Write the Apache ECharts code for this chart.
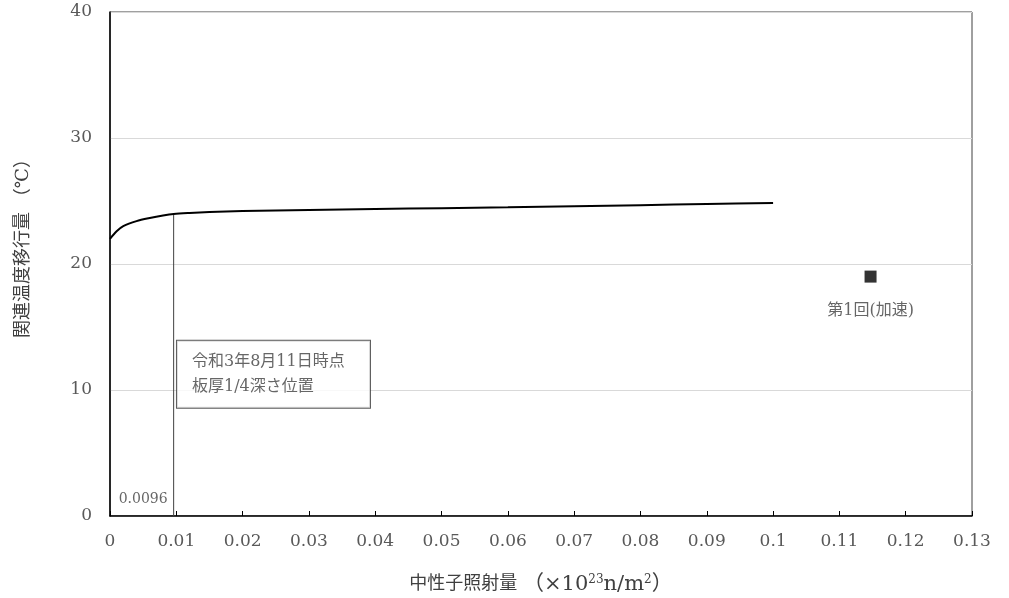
<!DOCTYPE html>
<html>
<head>
<meta charset="utf-8">
<script src="https://cdn.jsdelivr.net/npm/echarts@6/dist/echarts.min.js"></script>
<style>html,body{margin:0;padding:0;background:#fff}#c{width:1009px;height:598px}</style>
</head>
<body>
<div id="c"></div>
<script>
// Curve: fluence (x10^23 n/m^2) vs transition temperature shift (°C)
const curveX = [0, 0.001, 0.002, 0.004, 0.006, 0.008, 0.0096, 0.012, 0.015, 0.02, 0.03, 0.04, 0.05, 0.06, 0.07, 0.08, 0.09, 0.1];
const curveY = [22.0, 22.6, 23.0, 23.4, 23.65, 23.85, 23.97, 24.05, 24.12, 24.2, 24.28, 24.36, 24.43, 24.5, 24.58, 24.67, 24.76, 24.85];
// Surveillance test result
const testX = [0.1147];
const testY = [19.0];
const testName = '第1回(加速)';
// Current point
const nowX = 0.0096;
const nowY = 23.97;
const nowLabel = '0.0096';
const noteLines = ['令和3年8月11日時点', '板厚1/4深さ位置'];
const noteAnchor = [0.0101, 13.9];
const xTicks = { min: 0, max: 0.13, interval: 0.01 };
const yTicks = { min: 0, max: 40, interval: 10 };

const FONT = '"DejaVu Serif", "Noto Sans CJK JP", serif';
const chart = echarts.init(document.getElementById('c'));
chart.setOption({
  animation: false,
  grid: { left: 110, right: 37, top: 12, bottom: 82, show: true, borderColor: '#404040', borderWidth: 1,
    containLabel: false, outerBoundsMode: 'none' },
  xAxis: {
    type: 'value', min: xTicks.min, max: xTicks.max, interval: xTicks.interval,
    name: '中性子照射量 {l|（×10}{sup|23}{l|n/m}{sup|2}{l|）}', nameLocation: 'middle', nameGap: 58,
    nameTextStyle: { fontFamily: FONT, fontSize: 18, color: '#404040',
      rich: {
        l: { fontFamily: FONT, fontSize: 21, color: '#404040' },
        sup: { fontFamily: FONT, fontSize: 12, color: '#404040', verticalAlign: 'top', padding: [0, 0, 9, 0] }
      } },
    axisLine: { show: true, lineStyle: { color: '#000', width: 1.5 } },
    axisTick: { show: true, inside: true, length: 5, lineStyle: { color: '#000' } },
    axisLabel: { fontFamily: FONT, fontSize: 17, color: '#595959', margin: 17 },
    splitLine: { show: false }
  },
  yAxis: {
    type: 'value', min: yTicks.min, max: yTicks.max, interval: yTicks.interval,
    name: '関連温度移行量 （℃）', nameLocation: 'middle', nameGap: 78,
    nameTextStyle: { fontFamily: FONT, fontSize: 18, color: '#404040', padding: [0, 0, 0, 40] },
    axisLine: { show: true, lineStyle: { color: '#000', width: 1.5 } },
    axisTick: { show: false },
    axisLabel: { fontFamily: FONT, fontSize: 17, color: '#595959', margin: 18 },
    splitLine: { show: true, lineStyle: { color: '#d9d9d9', width: 1 } }
  },
  series: [
    {
      type: 'line', data: curveX.map((x, i) => [x, curveY[i]]),
      smooth: 0.3, showSymbol: false, lineStyle: { color: '#000', width: 2 }, z: 3
    },
    {
      type: 'line', data: [[nowX, 0], [nowX, nowY]], showSymbol: false,
      lineStyle: { color: '#404040', width: 1 }, z: 2
    },
    {
      type: 'scatter', data: testX.map((x, i) => [x, testY[i]]), symbol: 'rect', symbolSize: 12,
      itemStyle: { color: '#000' },
      label: { show: true, position: 'bottom', distance: 20, formatter: testName,
        fontFamily: FONT, fontSize: 16, color: '#404040' }
    },
    {
      type: 'scatter', data: [[nowX, 1.3]], symbolSize: 0,
      label: { show: true, position: 'left', distance: 6, formatter: nowLabel,
        fontFamily: FONT, fontSize: 14, color: '#404040' }
    },
    {
      type: 'scatter', data: [noteAnchor], symbolSize: 0, z: 5,
      label: { show: true, position: [0, 0], formatter: noteLines.join('\n'),
        fontFamily: FONT, fontSize: 16, color: '#404040', lineHeight: 25,
        backgroundColor: '#fff', borderColor: '#333', borderWidth: 1,
        padding: [8, 5, 8, 15], width: 173, height: 51 }
    }
  ]
});
</script>
</body>
</html>
